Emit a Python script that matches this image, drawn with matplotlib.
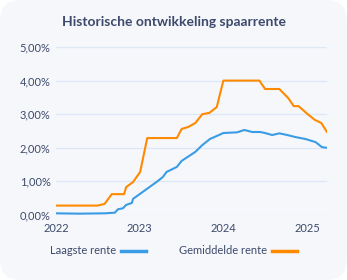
import numpy as np
import pandas as pd
import matplotlib.pyplot as plt
import matplotlib.dates as mdates
from matplotlib.patches import FancyBboxPatch

plt.rcParams['font.family'] = ['Lato', 'DejaVu Sans']

# Gemiddelde rente
gem_dates = ["2022-01-01", "2022-07-01", "2022-08-01", "2022-09-01", "2022-10-25",
             "2022-11-03", "2022-12-03", "2023-01-03", "2023-02-03", "2023-06-12",
             "2023-07-03", "2023-08-01", "2023-09-01", "2023-10-01", "2023-11-01",
             "2023-12-03", "2024-01-01", "2024-06-06", "2024-07-01", "2024-09-01",
             "2024-10-10", "2024-11-03", "2024-11-24", "2025-01-03", "2025-02-03",
             "2025-03-03", "2025-03-28"]
gem_rente = [0.28, 0.28, 0.33, 0.62, 0.62,
             0.83, 0.98, 1.28, 2.29, 2.29,
             2.56, 2.62, 2.74, 3.00, 3.04,
             3.21, 4.00, 4.00, 3.75, 3.75,
             3.48, 3.24, 3.24, 3.00, 2.83,
             2.74, 2.47]

# Laagste rente
laag_dates = ["2022-01-01", "2022-04-12", "2022-08-01", "2022-09-15", "2022-09-28",
              "2022-10-20", "2022-11-03", "2022-11-28", "2022-12-03", "2023-03-15",
              "2023-04-12", "2023-04-28", "2023-06-12", "2023-07-03", "2023-09-01",
              "2023-10-01", "2023-11-03", "2024-01-01", "2024-03-01", "2024-04-01",
              "2024-05-06", "2024-06-10", "2024-07-01", "2024-08-01", "2024-09-01",
              "2024-10-06", "2024-11-10", "2024-12-25", "2025-02-06", "2025-03-06",
              "2025-03-28"]
laag_rente = [0.05, 0.04, 0.05, 0.07, 0.17,
              0.20, 0.30, 0.36, 0.48, 0.98,
              1.13, 1.28, 1.43, 1.61, 1.88,
              2.08, 2.26, 2.44, 2.46, 2.53,
              2.47, 2.47, 2.44, 2.38, 2.43,
              2.38, 2.32, 2.26, 2.17, 2.02,
              2.00]

text_col = "#3d4a6b"
blue = "#3b9ce6"
orange = "#ff8a00"

fig = plt.figure(figsize=(3.47, 2.80), dpi=100, facecolor="white")
card = FancyBboxPatch((0.0, 0.0), 1.0, 1.0, boxstyle="round,pad=0,rounding_size=0.06",
                      transform=fig.transFigure, facecolor="#f6f7fb", edgecolor="none",
                      mutation_aspect=347 / 280, zorder=-10)
fig.patches.append(card)

ax = fig.add_axes([56 / 347, 1 - 215 / 280, (327 - 56) / 347, (215 - 47) / 280])
ax.set_facecolor("none")

ax.plot(pd.to_datetime(laag_dates), laag_rente, color=blue, lw=1.5, label="Laagste rente")
ax.plot(pd.to_datetime(gem_dates), gem_rente, color=orange, lw=1.5, label="Gemiddelde rente")

ax.set_ylim(0, 5)
ax.set_xlim(pd.Timestamp("2022-01-01"), pd.Timestamp("2025-03-28"))
ax.set_yticks(np.arange(0, 6, 1))
ax.set_yticklabels([f"{v:.2f}%".replace(".", ",") for v in range(6)])
ax.xaxis.set_major_locator(mdates.YearLocator())
ax.xaxis.set_major_formatter(mdates.DateFormatter("%Y"))
ax.grid(axis="y", color="#dde8f6", lw=1)
ax.set_axisbelow(True)
for s in ax.spines.values():
    s.set_visible(False)
ax.tick_params(length=0, labelsize=8, colors=text_col, pad=4)
ax.tick_params(axis="x", pad=6)

fig.text(0.5, 1 - 22 / 280, "Historische ontwikkeling spaarrente", ha="center", va="center",
         fontsize=10, fontweight="bold", color=text_col)

ax.legend(loc="center", bbox_to_anchor=(0.5, 1 - 251 / 280), bbox_transform=fig.transFigure,
          ncol=2, frameon=False, markerfirst=False, fontsize=8, handlelength=2.3,
          columnspacing=2.9, handletextpad=0.45, labelcolor=text_col)
leg = ax.get_legend()
for line in leg.get_lines():
    line.set_linewidth(2.5)

fig.savefig("out.png", dpi=100, facecolor=fig.get_facecolor())
